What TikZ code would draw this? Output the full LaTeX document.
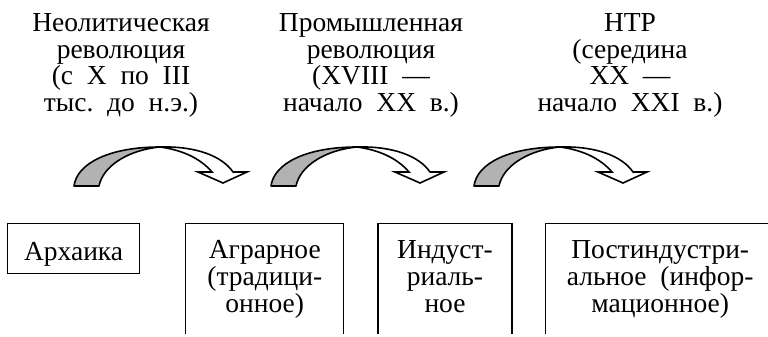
\documentclass[tikz,border=0pt]{standalone}
\usepackage{fontspec}
\setmainfont{Liberation Serif}
\usepackage{tikz}
\usetikzlibrary{positioning}
\frenchspacing
\newcommand{\widesp}{\spaceskip 0.5em\relax}
\tikzstyle{era} = [align=center, inner sep=0pt, anchor=north, font=\fontsize{27.5}{26.8}\selectfont\widesp]
\tikzstyle{stage} = [rectangle, minimum height=150, anchor=north west, draw=black, line width=1.2pt]
\tikzstyle{txt} = [align=center, inner sep=0pt, font=\fontsize{27.5}{27}\selectfont\widesp]
\tikzstyle{back} = [draw=black, fill=black!30, line width=1.6pt, line join=round]
\tikzstyle{front} = [draw=black, fill=white, line width=1.6pt, line join=miter]

\newcommand{\revarrow}[1]{
\begin{scope}[xshift=#1]
\draw [back] (74,186) .. controls (77,163) and (110,147) .. (160,147)
  .. controls (128,150) and (103,166) .. (99,186) -- cycle;
\draw [front] (160,147) .. controls (196,146) and (222,156) .. (233,172)
  -- (247,172) -- (223,183) -- (198,172) -- (212,172)
  .. controls (200,158) and (182,150) .. (160,147) -- cycle;
\end{scope}
}

\begin{document}
\begin{tikzpicture}[x=1pt, y=-1pt]
\useasboundingbox (0,0) rectangle (768,337);
\clip (0,0) rectangle (768,333);

\node (neo) [era] at (121,13) {Неолитическая\\революция\\(с X по III\\тыс. до н.э.)};
\node (prom) [era] at (371,13) {Промышленная\\революция\\(XVIII —\\начало XX в.)};
\node (ntr) [era] at (630,13) {НТР\\(середина\\XX —\\начало XXI в.)};

\revarrow{0}
\revarrow{197}
\revarrow{400}

\node (arch) [stage, minimum width=132, minimum height=50] at (7,223) {};
\node (agr) [stage, minimum width=158, right=45pt of arch.north east, anchor=north west] {};
\node (ind) [stage, minimum width=134, right=33pt of agr.north east, anchor=north west] {};
\node (post) [stage, minimum width=230, right=32pt of ind.north east, anchor=north west] {};

\node (archtxt) [txt, below=19pt of arch.north] {Архаика};
\node (agrtxt) [txt, below=17pt of agr.north] {Аграрное\\(традици-\\онное)};
\node (indtxt) [txt, below=17pt of ind.north] {Индуст-\\риаль-\\ное};
\node (posttxt) [txt, below=17pt of post.north] {Постиндустри-\\альное (инфор-\\мационное)};

\end{tikzpicture}
\end{document}
